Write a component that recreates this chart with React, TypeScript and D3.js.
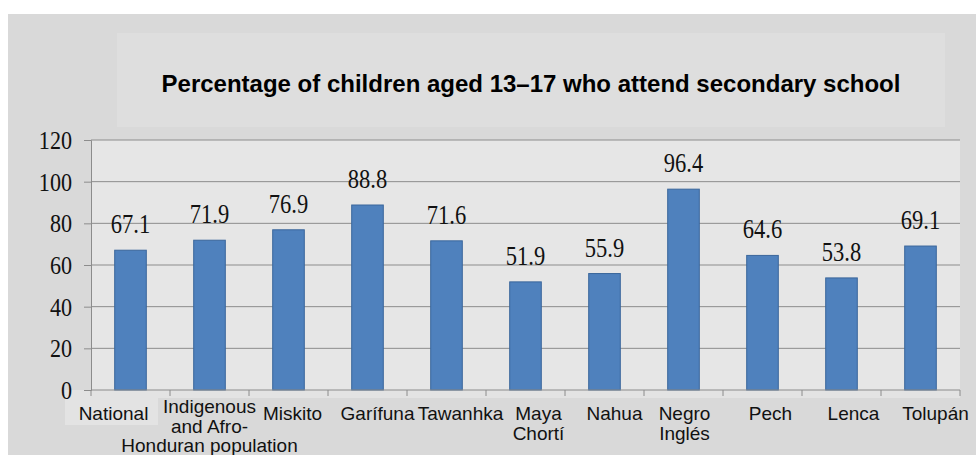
import React, { useEffect, useRef } from 'react';
import * as d3 from 'd3';

// chart data
const categories = [
    'National',
    'Indigenous\nand Afro-\nHonduran population',
    'Miskito',
    'Garífuna',
    'Tawanhka',
    'Maya\nChortí',
    'Nahua',
    'Negro\nInglés',
    'Pech',
    'Lenca',
    'Tolupán',
];
const values = [67.1, 71.9, 76.9, 88.8, 71.6, 51.9, 55.9, 96.4, 64.6, 53.8, 69.1];
const yTicks = [0, 20, 40, 60, 80, 100, 120];
const title = 'Percentage of children aged 13–17 who attend secondary school';

// the source places the category labels a bit off the bar centres
const labelNudge = [-17, 0, 4, 10, 14, 13, 10, 1, 8, 12, 15];

const App = () => {
    const svgRef = useRef<SVGSVGElement>(null);

    useEffect(() => {
        const svg = d3.select(svgRef.current);
        svg.selectAll('*').remove();

        const W = 976;
        const H = 455;
        const plot = { left: 91, right: 960, top: 140, bottom: 390 };
        const serif = '"Liberation Serif", "Times New Roman", serif';
        const sans = '"Liberation Sans", Arial, sans-serif';
        // the serif numbers in the source are squeezed horizontally
        const squeeze = 0.85;

        // outer frame
        svg.append('rect')
            .attr('x', 8).attr('y', 14)
            .attr('width', W - 8).attr('height', H - 14)
            .attr('fill', '#d9d9d9');

        // title box
        svg.append('rect')
            .attr('x', 117).attr('y', 33)
            .attr('width', 828).attr('height', 94)
            .attr('fill', '#dedede');

        svg.append('text')
            .attr('x', 531).attr('y', 92)
            .attr('text-anchor', 'middle')
            .style('font-family', sans)
            .style('font-weight', 'bold')
            .style('font-size', '24px')
            .style('fill', '#000')
            .text(title);

        const x = d3.scaleBand()
            .domain(categories)
            .range([plot.left, plot.right])
            .paddingInner(0.6)
            .paddingOuter(0.3);
        const step = x.step();

        const y = d3.scaleLinear()
            .domain([0, 120])
            .range([plot.bottom, plot.top]);

        // light strip under axis (label area)
        svg.append('rect')
            .attr('x', 65).attr('y', plot.bottom)
            .attr('width', plot.right - 65).attr('height', 8)
            .attr('fill', '#e3e3e3');
        svg.append('rect')
            .attr('x', 65).attr('y', plot.bottom)
            .attr('width', 93).attr('height', 35)
            .attr('fill', '#e3e3e3');

        // plot background
        svg.append('rect')
            .attr('x', plot.left).attr('y', plot.top)
            .attr('width', plot.right - plot.left).attr('height', plot.bottom - plot.top)
            .attr('fill', '#e6e6e6');

        // gridlines
        svg.append('g')
            .selectAll('line')
            .data(yTicks.filter(d => d > 0))
            .join('line')
            .attr('x1', plot.left).attr('x2', plot.right)
            .attr('y1', d => y(d)).attr('y2', d => y(d))
            .attr('stroke', '#8c8c8c')
            .attr('stroke-width', 1);

        // y axis (line + ticks from d3, labels drawn by hand so they can be squeezed)
        const yAxis = svg.append('g')
            .attr('transform', `translate(${plot.left},0)`)
            .call(d3.axisLeft(y).tickValues(yTicks).tickSize(7).tickFormat(() => ''));
        yAxis.select('.domain').attr('stroke', '#8c8c8c');
        yAxis.selectAll('.tick line').attr('stroke', '#8c8c8c');

        svg.append('g')
            .selectAll('text')
            .data(yTicks)
            .join('text')
            .attr('transform', d => `translate(72,${y(d) + 9}) scale(${squeeze},1)`)
            .attr('text-anchor', 'end')
            .style('font-family', serif)
            .style('font-size', '26px')
            .style('fill', '#111')
            .text(d => String(d));

        // bars
        svg.append('g')
            .selectAll('rect')
            .data(values)
            .join('rect')
            .attr('x', (d, i) => x(categories[i])!)
            .attr('y', d => y(d))
            .attr('width', x.bandwidth())
            .attr('height', d => y(0) - y(d))
            .attr('fill', '#4f81bd')
            .attr('stroke', '#3a669b')
            .attr('stroke-width', 1);

        // value labels
        svg.append('g')
            .selectAll('text')
            .data(values)
            .join('text')
            .attr('transform', (d, i) =>
                `translate(${x(categories[i])! + x.bandwidth() / 2},${y(d) - 17}) scale(${squeeze},1)`)
            .attr('text-anchor', 'middle')
            .style('font-family', serif)
            .style('font-size', '26.5px')
            .style('fill', '#111')
            .text(d => d.toFixed(1));

        // x axis line + ticks at category boundaries
        svg.append('line')
            .attr('x1', plot.left).attr('x2', plot.right)
            .attr('y1', plot.bottom).attr('y2', plot.bottom)
            .attr('stroke', '#8c8c8c');
        svg.append('g')
            .selectAll('line')
            .data(d3.range(categories.length + 1))
            .join('line')
            .attr('x1', i => plot.left + i * step).attr('x2', i => plot.left + i * step)
            .attr('y1', plot.bottom).attr('y2', plot.bottom + 6)
            .attr('stroke', '#8c8c8c');

        // category labels
        const labels = svg.append('g')
            .selectAll('text')
            .data(categories)
            .join('text')
            .attr('text-anchor', 'middle')
            .attr('transform', (d, i) => {
                const n = d.split('\n').length;
                const base = n > 2 ? 413 : 420;
                return `translate(${x(d)! + x.bandwidth() / 2 + labelNudge[i]},${base})`;
            })
            .style('font-family', sans)
            .style('font-size', '19px')
            .style('fill', '#111');
        labels.selectAll('tspan')
            .data(d => d.split('\n'))
            .join('tspan')
            .attr('x', 0)
            .attr('dy', (d, i) => (i === 0 ? 0 : 19.5))
            .text(d => d);
    }, []);

    return (
        <svg
            ref={svgRef}
            width={976}
            height={455}
            style={{ position: 'absolute', left: 0, top: 0, display: 'block', background: '#fff' }}
        />
    );
};

export default App;
